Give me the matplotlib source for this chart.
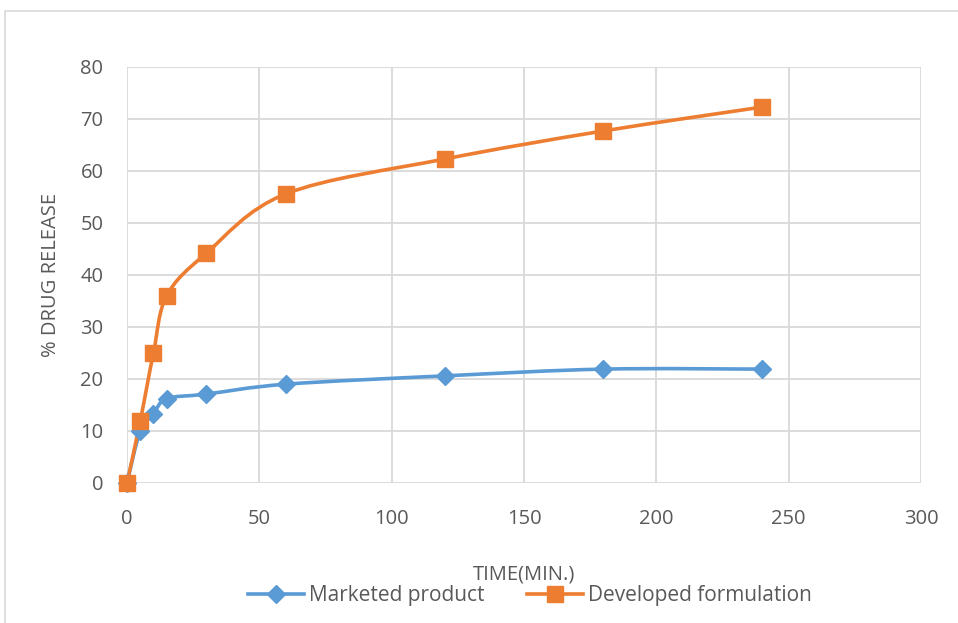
import numpy as np
import matplotlib.pyplot as plt
from matplotlib.path import Path
from matplotlib.patches import PathPatch, Rectangle
from matplotlib.lines import Line2D

################################################################################

TIME = [0, 5, 10, 15, 30, 60, 120, 180, 240]
MARKETED = [0, 10, 13.3, 16.2, 17.1, 19, 20.6, 21.9, 21.9]
DEVELOPED = [0, 11.9, 25, 36, 44.2, 55.6, 62.3, 67.7, 72.3]

BLUE = "#5B9BD5"
ORANGE = "#ED7D31"
TEXT = "#595959"
GRID = "#D9D9D9"
FS = 14.5

plt.rcParams["font.family"] = ["Open Sans", "DejaVu Sans"]

################################################################################


def smooth_path(x, y):
    # Excel-like smoothed line: cubic bezier with Catmull-Rom control points
    x = np.asarray(x, float)
    y = np.asarray(y, float)
    verts = [(x[0], y[0])]
    codes = [Path.MOVETO]
    n = len(x)
    for i in range(n - 1):
        x0, y0 = (x[i - 1], y[i - 1]) if i > 0 else (x[i], y[i])
        x3, y3 = (x[i + 2], y[i + 2]) if i + 2 < n else (x[i + 1], y[i + 1])
        c1 = (x[i] + (x[i + 1] - x0) / 6, y[i] + (y[i + 1] - y0) / 6)
        c2 = (x[i + 1] - (x3 - x[i]) / 6, y[i + 1] - (y3 - y[i]) / 6)
        verts += [c1, c2, (x[i + 1], y[i + 1])]
        codes += [Path.CURVE4] * 3
    return Path(verts, codes)


def draw_series(ax, y, color, marker, ms, label):
    ax.add_patch(PathPatch(smooth_path(TIME, y), fill=False, edgecolor=color,
                           lw=2.6, zorder=3, capstyle="round", clip_on=False))
    ax.plot(TIME, y, ls="none", marker=marker, ms=ms, color=color, zorder=4,
            clip_on=False)
    return Line2D([], [], color=color, lw=2.6, marker=marker, ms=ms, label=label)


################################################################################

fig = plt.figure(figsize=(9.58, 6.23), dpi=100)
ax = fig.add_axes([127 / 958, 1 - 483 / 623, (921 - 127) / 958, (483 - 67) / 623])

fig.patches.append(Rectangle((5 / 958, -0.02), 1.1, 1 - 11 / 623 + 0.02,
                             transform=fig.transFigure, fill=False,
                             edgecolor=GRID, lw=1.2))

h1 = draw_series(ax, MARKETED, BLUE, "D", 9.5, "Marketed product")
h2 = draw_series(ax, DEVELOPED, ORANGE, "s", 12, "Developed formulation")

ax.set_xlim(0, 300)
ax.set_ylim(0, 80)
ax.set_xticks(range(0, 301, 50))
ax.set_yticks(range(0, 81, 10))
ax.grid(True, color=GRID, lw=1.3)
ax.set_axisbelow(True)
for s in ax.spines.values():
    s.set_visible(False)
ax.tick_params(length=0, labelsize=FS, labelcolor=TEXT)
ax.tick_params(axis="x", pad=19)
ax.tick_params(axis="y", pad=17)

ax.set_xlabel("TIME(MIN.)", fontsize=FS, color=TEXT, labelpad=25)
ax.set_ylabel("% DRUG RELEASE", fontsize=FS, color=TEXT, labelpad=14)

fig.legend(handles=[h1, h2], loc="center", bbox_to_anchor=(530 / 958, 1 - 596 / 623),
           ncol=2, frameon=False, fontsize=15, labelcolor=TEXT,
           handlelength=2.7, columnspacing=2.0, handletextpad=0.25)

fig.savefig("out.png", dpi=100)
